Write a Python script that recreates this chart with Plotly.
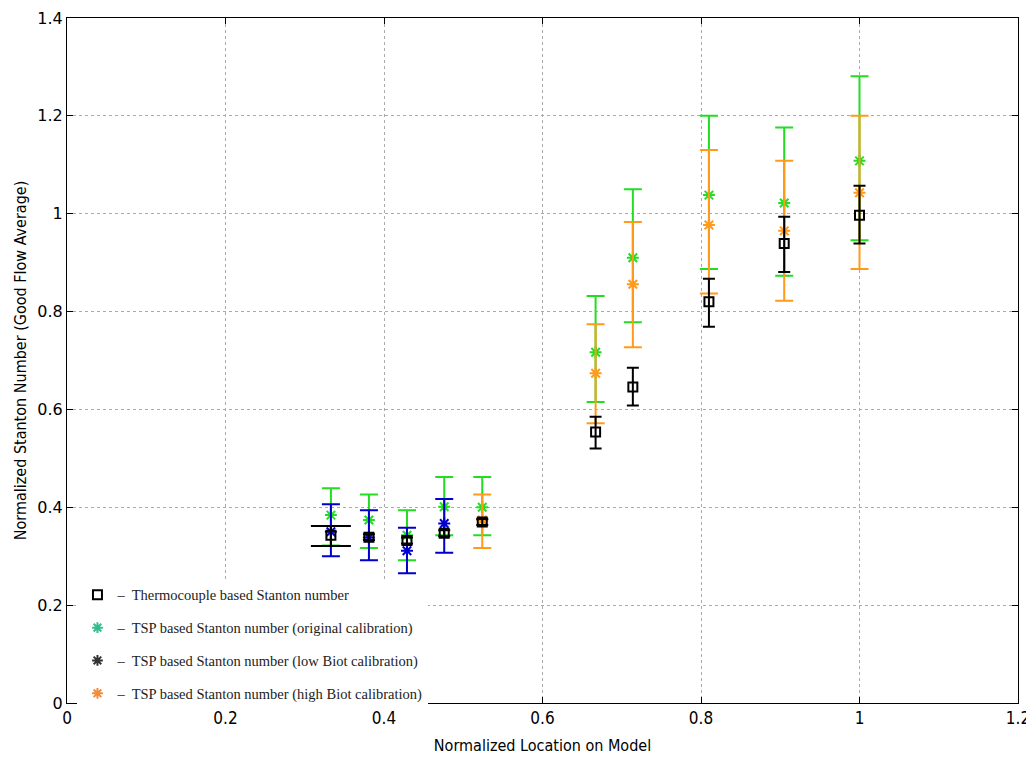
import plotly.graph_objects as go

# x positions (normalized location on model)
x_all = [0.333, 0.381, 0.429, 0.476, 0.524, 0.667, 0.714, 0.810, 0.905, 1.0]

# Thermocouple based (black squares)
tc_y = [0.343, 0.339, 0.332, 0.347, 0.370, 0.554, 0.646, 0.820, 0.939, 0.997]
tc_hi = [0.362, 0.345, 0.338, 0.353, 0.376, 0.585, 0.685, 0.867, 0.994, 1.057]
tc_lo = [0.321, 0.333, 0.326, 0.341, 0.364, 0.520, 0.608, 0.769, 0.881, 0.939]

# TSP original calibration (green)
orig_y = [0.384, 0.374, 0.343, 0.401, 0.400, 0.717, 0.910, 1.038, 1.022, 1.108]
orig_hi = [0.439, 0.426, 0.394, 0.462, 0.462, 0.832, 1.050, 1.200, 1.176, 1.281]
orig_lo = [0.322, 0.317, 0.292, 0.343, 0.343, 0.615, 0.778, 0.887, 0.873, 0.946]

# TSP low Biot calibration (blue)
low_x = [0.333, 0.381, 0.429, 0.476]
low_y = [0.350, 0.338, 0.311, 0.367]
low_hi = [0.406, 0.394, 0.358, 0.417]
low_lo = [0.300, 0.292, 0.265, 0.307]

# TSP high Biot calibration (orange)
high_x = [0.524, 0.667, 0.714, 0.810, 0.905, 1.0]
high_y = [0.374, 0.674, 0.856, 0.977, 0.965, 1.043]
high_hi = [0.426, 0.774, 0.983, 1.130, 1.108, 1.200]
high_lo = [0.317, 0.572, 0.727, 0.837, 0.822, 0.887]

x_ticks = [0, 0.2, 0.4, 0.6, 0.8, 1, 1.2]
x_tick_text = ["0", "0.2", "0.4", "0.6", "0.8", "1", "1.2"]
y_ticks = [0, 0.2, 0.4, 0.6, 0.8, 1, 1.2, 1.4]
y_tick_text = ["0", "0.2", "0.4", "0.6", "0.8", "1", "1.2", "1.4"]

legend_labels = [
    "–  Thermocouple based Stanton number",
    "–  TSP based Stanton number (original calibration)",
    "–  TSP based Stanton number (low Biot calibration)",
    "–  TSP based Stanton number (high Biot calibration)",
]

GREEN = "#22dd22"
BLUE = "#0000cc"
ORANGE = "#ff9a1a"
COND = "DejaVu Sans Condensed, Liberation Sans Narrow, Arial Narrow, sans-serif"


def errs(y, hi, lo):
    return [h - v for h, v in zip(hi, y)], [v - l for v, l in zip(y, lo)]


fig = go.Figure()


def add_series(x, y, hi, lo, color, symbol, size, capw):
    p, m = errs(y, hi, lo)
    fig.add_trace(go.Scatter(
        x=x, y=y, mode="markers", showlegend=False,
        marker=dict(symbol=symbol, size=size, color=color,
                    line=dict(color=color, width=2)),
        error_y=dict(type="data", symmetric=False, array=p, arrayminus=m,
                     color=color, thickness=2, width=capw),
    ))


add_series(x_all, orig_y, orig_hi, orig_lo, GREEN, "asterisk-open", 10, 9)
add_series(low_x, low_y, low_hi, low_lo, BLUE, "asterisk-open", 10, 9)
add_series(high_x, high_y, high_hi, high_lo, ORANGE, "asterisk-open", 10, 9)
# black: first point with wide caps, rest with narrow caps
add_series(x_all[:1], tc_y[:1], tc_hi[:1], tc_lo[:1], "black", "square-open", 9, 20)
add_series(x_all[1:], tc_y[1:], tc_hi[1:], tc_lo[1:], "black", "square-open", 9, 6)

# legend-only traces
leg_markers = [
    ("square-open", "black"),
    ("asterisk-open", "#2fbf8f"),
    ("asterisk-open", "#333333"),
    ("asterisk-open", "#f28c3a"),
]
for i, (lab, (sym, col)) in enumerate(zip(legend_labels, leg_markers)):
    fig.add_trace(go.Scatter(
        x=[None], y=[None], mode="markers", name=lab, legendgroup=f"g{i}",
        marker=dict(symbol=sym, size=9, color=col, line=dict(color=col, width=2)),
    ))

axis_common = dict(
    showgrid=True, gridcolor="#aaaaaa", griddash="dot", gridwidth=1,
    showline=True, linecolor="black", linewidth=1, mirror="ticks",
    ticks="inside", ticklen=6, tickcolor="black", zeroline=False,
    automargin=False,
)

fig.update_layout(
    width=1026, height=755,
    margin=dict(l=59, r=16, t=10, b=60),
    paper_bgcolor="white", plot_bgcolor="white",
    xaxis=dict(range=[0, 1.2], tickvals=x_ticks, ticktext=x_tick_text,
               tickfont=dict(family=COND, size=17, color="black"),
               title=dict(text="Normalized Location on Model", standoff=12,
                          font=dict(family=COND, size=16, color="black")),
               **axis_common),
    yaxis=dict(range=[0, 1.4], tickvals=y_ticks, ticktext=y_tick_text,
               tickfont=dict(family="DejaVu Sans, sans-serif", size=16, color="black"),
               title=dict(text="Normalized Stanton Number (Good Flow Average)", standoff=6,
                          font=dict(family=COND, size=16, color="black")),
               **axis_common),
    legend=dict(x=0.011, y=-0.010, xanchor="left", yanchor="bottom",
                bgcolor="white", borderwidth=0, tracegroupgap=11,
                font=dict(family="Liberation Serif, Times New Roman, serif", size=14.5, color="#222222"),
                itemwidth=30),
    showlegend=True,
)

fig.write_html("out.html")
